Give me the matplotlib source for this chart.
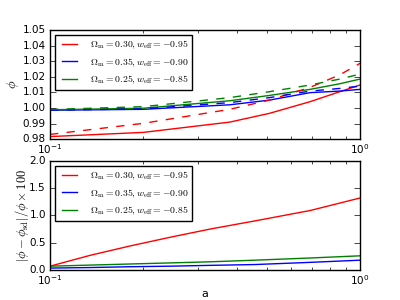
import matplotlib
matplotlib.use("Agg")
import matplotlib.pyplot as plt

plt.style.use("classic")
plt.rcParams["mathtext.fontset"] = "cm"
plt.rcParams["font.size"] = 7.5
plt.rcParams["xtick.major.pad"] = 2
plt.rcParams["ytick.major.pad"] = 3

# top panel: phi(a), solid and dashed for each model
a_top = [0.1, 0.2, 0.38, 0.51, 0.69, 0.86, 1.0]
phi_red = [0.9816, 0.9843, 0.9909, 0.9965, 1.0040, 1.0104, 1.0147]
phi_red_d = [0.9830, 0.9901, 0.9991, 1.0050, 1.0132, 1.0212, 1.0286]
phi_blue = [0.9985, 0.9991, 1.0020, 1.0050, 1.0098, 1.0108, 1.0119]
phi_blue_d = [0.9986, 0.9994, 1.0034, 1.0066, 1.0108, 1.0125, 1.0140]
phi_green = [0.9988, 0.9998, 1.0046, 1.0080, 1.0119, 1.0155, 1.0185]
phi_green_d = [0.9990, 1.0008, 1.0066, 1.0104, 1.0147, 1.0185, 1.0217]

# bottom panel: relative difference x100
a_bot = [0.1, 0.135, 0.181, 0.244, 0.328, 0.458, 0.69, 1.0]
diff_red = [0.07, 0.27, 0.44, 0.60, 0.75, 0.90, 1.09, 1.32]
diff_blue = [0.035, 0.045, 0.06, 0.07, 0.085, 0.10, 0.14, 0.18]
diff_green = [0.07, 0.09, 0.11, 0.13, 0.15, 0.18, 0.22, 0.26]

labels = [
    r"$\Omega_{\rm m}=0.30, w_{\rm eff}=-0.95$",
    r"$\Omega_{\rm m}=0.35, w_{\rm eff}=-0.90$",
    r"$\Omega_{\rm m}=0.25, w_{\rm eff}=-0.85$",
]

fig, (ax1, ax2) = plt.subplots(2, 1, figsize=(4, 3), dpi=100)
fig.patch.set_facecolor("white")
fig.subplots_adjust(left=0.125, right=0.9, top=0.9, bottom=0.1, hspace=0.2)

ax1.plot(a_top, phi_red, "r-", label=labels[0])
ax1.plot(a_top, phi_blue, "b-", label=labels[1])
ax1.plot(a_top, phi_green, "g-", label=labels[2])
ax1.plot(a_top, phi_red_d, "r--")
ax1.plot(a_top, phi_blue_d, "b--")
ax1.plot(a_top, phi_green_d, "g--")
ax1.set_xscale("log")
ax1.set_xlim(0.1, 1.0)
ax1.set_ylim(0.98, 1.05)
ax1.set_yticks([0.98, 0.99, 1.00, 1.01, 1.02, 1.03, 1.04, 1.05])
ax1.yaxis.get_major_formatter().set_useOffset(False)
ax1.set_ylabel(r"$\phi$", fontsize=9, labelpad=1)
ax1.legend(loc="upper left", fontsize=7, handlelength=2.2, handletextpad=1.0,
           numpoints=2)

ax2.plot(a_bot, diff_red, "r-", label=labels[0])
ax2.plot(a_bot, diff_blue, "b-", label=labels[1])
ax2.plot(a_bot, diff_green, "g-", label=labels[2])
ax2.set_xscale("log")
ax2.set_xlim(0.1, 1.0)
ax2.set_ylim(0, 2.0)
ax2.set_yticks([0, 0.5, 1.0, 1.5, 2.0])
ax2.set_xlabel("a", fontsize=8, labelpad=2)
ax2.set_ylabel(r"$|\phi-\phi_{\rm sd}|/\phi\times100$", fontsize=9, labelpad=-1)
ax2.legend(loc="upper left", fontsize=7, handlelength=2.2, handletextpad=1.0,
           numpoints=2)

fig.savefig("out.png", dpi=100, facecolor="white")
